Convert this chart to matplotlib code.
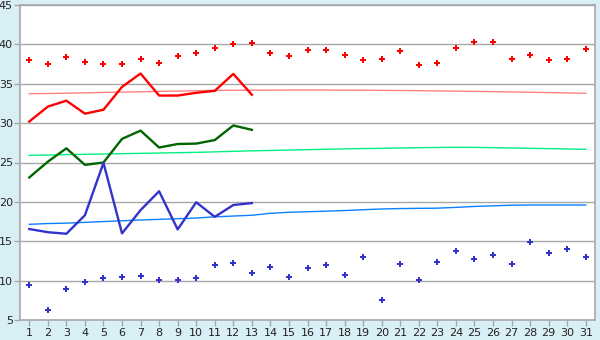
import matplotlib
matplotlib.use('Agg')
import matplotlib.pyplot as plt

days = list(range(1, 32))

# data
red_points = [38.0, 37.5, 38.4, 37.7, 37.5, 37.5, 38.2, 37.6, 38.5, 38.9,
              39.5, 40.05, 40.15, 38.9, 38.5, 39.25, 39.25, 38.7, 38.0, 38.1,
              39.1, 37.35, 37.6, 39.5, 40.25, 40.25, 38.2, 38.7, 38.0, 38.2, 39.35]
red_line = [30.2, 32.1, 32.85, 31.2, 31.7, 34.6, 36.3, 33.5, 33.5, 33.85,
            34.1, 36.25, 33.6]
red_trend = [33.74, 33.76, 33.8, 33.85, 33.9, 33.94, 33.98, 34.03, 34.07, 34.12,
             34.15, 34.17, 34.18, 34.19, 34.2, 34.2, 34.2, 34.19, 34.18, 34.16,
             34.14, 34.12, 34.09, 34.06, 34.03, 34.0, 33.96, 33.92, 33.88, 33.83, 33.79]

green_line = [23.1, 25.1, 26.8, 24.7, 25.0, 28.0, 29.05, 26.9, 27.35, 27.4,
              27.85, 29.7, 29.15]
green_trend = [25.91, 25.95, 26.0, 26.04, 26.08, 26.12, 26.16, 26.2, 26.25, 26.29,
               26.35, 26.42, 26.48, 26.53, 26.58, 26.63, 26.68, 26.73, 26.77, 26.8,
               26.84, 26.88, 26.91, 26.93, 26.92, 26.88, 26.84, 26.8, 26.76, 26.72, 26.67]

blue_line = [16.55, 16.15, 15.95, 18.3, 24.95, 16.0, 18.95, 21.35, 16.5, 19.95,
             18.1, 19.6, 19.85]
blue_trend = [17.15, 17.25, 17.3, 17.4, 17.5, 17.6, 17.7, 17.78, 17.86, 17.95,
              18.1, 18.2, 18.3, 18.55, 18.68, 18.75, 18.82, 18.9, 19.0, 19.1,
              19.15, 19.18, 19.2, 19.3, 19.42, 19.5, 19.58, 19.6, 19.6, 19.6, 19.6]
blue_points = [9.4, 6.25, 9.0, 9.8, 10.3, 10.4, 10.55, 10.05, 10.05, 10.3,
               11.95, 12.2, 10.95, 11.7, 10.4, 11.55, 11.95, 10.7, 12.95, 7.5,
               12.05, 10.05, 12.35, 13.75, 12.7, 13.2, 12.05, 14.85, 13.45, 14.0, 12.95]

bg = '#d9eff6'
grid_c = '#a8a8a8'

fig = plt.figure(figsize=(6, 3.4), dpi=100, facecolor=bg)
ax = fig.add_axes([20 / 600, 1 - 320 / 340, 575 / 600, 315 / 340])
ax.set_facecolor('white')

ax.plot(days, red_trend, color='#ff8080', lw=1.0)
ax.plot(days, green_trend, color='#00f080', lw=1.0)
ax.plot(days, blue_trend, color='#0a80ff', lw=1.0)

ax.plot(days[:13], red_line, color='#ff0000', lw=1.7)
ax.plot(days[:13], green_line, color='#006600', lw=1.7)
ax.plot(days[:13], blue_line, color='#3333cc', lw=1.7)

ax.plot(days, red_points, ls='none', marker='P', ms=4.8, color='#ff0000', mew=0)
ax.plot(days, blue_points, ls='none', marker='P', ms=4.8, color='#3333cc', mew=0)

ax.set_xlim(0.5, 31.5)
ax.set_ylim(5, 45)
ax.set_xticks(days)
ax.set_yticks(range(5, 50, 5))
ax.yaxis.grid(True, color=grid_c, lw=1.0)
ax.set_axisbelow(True)

for s in ['left', 'bottom', 'right', 'top']:
    ax.spines[s].set_color(grid_c)
    ax.spines[s].set_linewidth(1.2)

ax.tick_params(axis='both', colors=grid_c, labelcolor='#222222', labelsize=8,
               length=4, width=1, direction='out')
ax.tick_params(axis='y', pad=1)
ax.tick_params(axis='x', pad=2)

plt.savefig('out.png', dpi=100, facecolor=bg)
